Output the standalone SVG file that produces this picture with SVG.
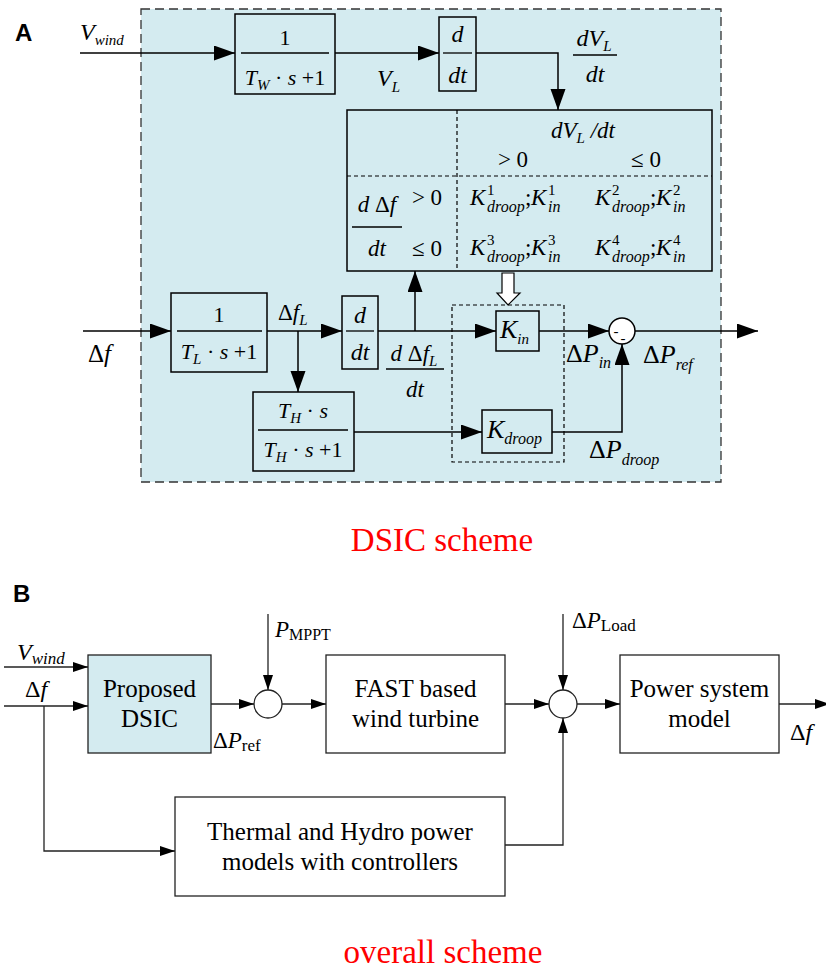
<svg xmlns="http://www.w3.org/2000/svg" width="826" height="971" viewBox="0 0 826 971">
<defs>
<marker id="ah" markerUnits="userSpaceOnUse" markerWidth="22" markerHeight="16" refX="21" refY="7.5" orient="auto"><path d="M0,0 L21,7.5 L0,15 z" fill="#000"/></marker>
<marker id="as" markerUnits="userSpaceOnUse" markerWidth="16" markerHeight="11" refX="15" refY="5" orient="auto"><path d="M0,0 L15,5 L0,10 z" fill="#000"/></marker>
<style>
.ln{stroke:#000;stroke-width:1.5;fill:none}
.lb{stroke:#222;stroke-width:1.3;fill:none}
.bx{fill:none;stroke:#000;stroke-width:1.5}
.bb{fill:#fff;stroke:#222;stroke-width:1.3}
.fl{stroke:#000;stroke-width:1.3}
.m{font-family:"Liberation Serif","DejaVu Serif","Times New Roman",serif;fill:#000}
.i{font-style:italic}
.s{font-size:15px}
.t{font-family:"Liberation Serif","DejaVu Serif","Times New Roman",serif;fill:#000}
.red{font-family:"Liberation Serif","DejaVu Serif","Times New Roman",serif;font-size:33px;fill:#ff0000}
.lab{font-family:"Liberation Sans",Arial,sans-serif;font-size:24px;font-weight:bold;fill:#000}
.dsh{stroke:#000;stroke-width:1.2;stroke-dasharray:4,3;fill:none}
</style>
</defs>

<g id="labelA"><text class="lab" x="15" y="41">A</text></g>

<g id="dsic-frame"><rect x="141" y="9" width="580" height="473" fill="#D4EBF0" stroke="#333" stroke-width="1.3" stroke-dasharray="9,5"/></g>

<g id="vwind-label"><text class="m i" x="80" y="40" font-size="24">V<tspan class="s" dy="5">wind</tspan></text></g>

<g id="TW-block">
<rect class="bx" x="235" y="14" width="100" height="80"/>
<text class="m" x="285" y="45" text-anchor="middle" font-size="22">1</text>
<line class="fl" x1="241" y1="53" x2="329" y2="53"/>
<text class="m" x="285" y="85" text-anchor="middle" font-size="22"><tspan class="i">T</tspan><tspan class="s i" dy="5">W</tspan><tspan dy="-5"> · </tspan><tspan class="i">s</tspan> +1</text>
</g>

<g id="VL-label"><text class="m i" x="377" y="86" font-size="24">V<tspan class="s" dy="6">L</tspan></text></g>

<g id="ddt-1">
<rect class="bx" x="439" y="17" width="37" height="74"/>
<text class="m i" x="457.5" y="42" text-anchor="middle" font-size="24">d</text>
<line class="fl" x1="443" y1="53" x2="472" y2="53"/>
<text class="m i" x="457.5" y="83" text-anchor="middle" font-size="24">dt</text>
</g>

<g id="dVLdt-label">
<text class="m i" x="594" y="46" text-anchor="middle" font-size="24">dV<tspan class="s" dy="5">L</tspan></text>
<line class="fl" x1="573" y1="55" x2="617" y2="55"/>
<text class="m i" x="595" y="82" text-anchor="middle" font-size="24">dt</text>
</g>

<g id="gain-table">
<rect class="bx" x="347" y="110" width="365" height="161"/>
<line class="dsh" x1="457" y1="110" x2="457" y2="271"/>
<line class="dsh" x1="347" y1="176" x2="712" y2="176"/>
<text class="m i" x="583" y="138" text-anchor="middle" font-size="23">dV<tspan class="s" dy="5">L</tspan><tspan dy="-5"> /dt</tspan></text>
<text class="m" x="513" y="167" text-anchor="middle" font-size="23">&gt; 0</text>
<text class="m" x="646" y="167" text-anchor="middle" font-size="23">≤ 0</text>
<text class="m" x="377" y="212" text-anchor="middle" font-size="23"><tspan class="i">d</tspan> Δ<tspan class="i">f</tspan></text>
<line class="fl" x1="352" y1="227" x2="402" y2="227"/>
<text class="m i" x="377" y="256" text-anchor="middle" font-size="23">dt</text>
<text class="m" x="427" y="205" text-anchor="middle" font-size="23">&gt; 0</text>
<text class="m" x="427" y="256" text-anchor="middle" font-size="23">≤ 0</text>
<g>
<text class="m i" x="470" y="205" font-size="23">K</text><text class="m" x="487" y="195" font-size="15">1</text><text class="m i" x="487" y="212" font-size="16">droop</text><text class="m" x="525" y="205" font-size="23">;</text><text class="m i" x="531" y="205" font-size="23">K</text><text class="m" x="548" y="195" font-size="15">1</text><text class="m i" x="548" y="212" font-size="16">in</text>
<text class="m i" x="595" y="205" font-size="23">K</text><text class="m" x="612" y="195" font-size="15">2</text><text class="m i" x="612" y="212" font-size="16">droop</text><text class="m" x="650" y="205" font-size="23">;</text><text class="m i" x="656" y="205" font-size="23">K</text><text class="m" x="673" y="195" font-size="15">2</text><text class="m i" x="673" y="212" font-size="16">in</text>
<text class="m i" x="470" y="255" font-size="23">K</text><text class="m" x="487" y="245" font-size="15">3</text><text class="m i" x="487" y="262" font-size="16">droop</text><text class="m" x="525" y="255" font-size="23">;</text><text class="m i" x="531" y="255" font-size="23">K</text><text class="m" x="548" y="245" font-size="15">3</text><text class="m i" x="548" y="262" font-size="16">in</text>
<text class="m i" x="595" y="255" font-size="23">K</text><text class="m" x="612" y="245" font-size="15">4</text><text class="m i" x="612" y="262" font-size="16">droop</text><text class="m" x="650" y="255" font-size="23">;</text><text class="m i" x="656" y="255" font-size="23">K</text><text class="m" x="673" y="245" font-size="15">4</text><text class="m i" x="673" y="262" font-size="16">in</text>
</g>
</g>

<g id="df-input-label"><text class="m" x="88" y="362" font-size="25">Δ<tspan class="i">f</tspan></text></g>

<g id="TL-block">
<rect class="bx" x="171" y="293" width="96" height="79"/>
<text class="m" x="219" y="322" text-anchor="middle" font-size="22">1</text>
<line class="fl" x1="177" y1="331" x2="262" y2="331"/>
<text class="m" x="219" y="359" text-anchor="middle" font-size="22"><tspan class="i">T</tspan><tspan class="s i" dy="5">L</tspan><tspan dy="-5"> · </tspan><tspan class="i">s</tspan> +1</text>
</g>

<g id="dfL-label"><text class="m" x="278" y="320" font-size="23">Δ<tspan class="i">f</tspan><tspan class="s i" dy="5">L</tspan></text></g>

<g id="ddt-2">
<rect class="bx" x="342" y="296" width="36" height="73"/>
<text class="m i" x="360" y="323" text-anchor="middle" font-size="24">d</text>
<line class="fl" x1="346" y1="331" x2="374" y2="331"/>
<text class="m i" x="360" y="360" text-anchor="middle" font-size="24">dt</text>
</g>

<g id="ddfL-label">
<text class="m" x="414" y="361" text-anchor="middle" font-size="23"><tspan class="i">d</tspan> Δ<tspan class="i">f</tspan><tspan class="s i" dy="5">L</tspan></text>
<line class="fl" x1="386" y1="369" x2="444" y2="369"/>
<text class="m i" x="415" y="397" text-anchor="middle" font-size="23">dt</text>
</g>

<g id="TH-block">
<rect class="bx" x="253" y="392" width="101" height="79"/>
<text class="m" x="303" y="418" text-anchor="middle" font-size="22"><tspan class="i">T</tspan><tspan class="s i" dy="5">H</tspan><tspan dy="-5"> · </tspan><tspan class="i">s</tspan></text>
<line class="fl" x1="258" y1="430" x2="348" y2="430"/>
<text class="m" x="303" y="457" text-anchor="middle" font-size="22"><tspan class="i">T</tspan><tspan class="s i" dy="5">H</tspan><tspan dy="-5"> · </tspan><tspan class="i">s</tspan> +1</text>
</g>

<g id="gain-group"><rect class="dsh" x="452" y="305" width="112" height="157"/></g>

<g id="hollow-arrow"><polygon points="502,273 514,273 514,293 520,293 508,305 497,293 502,293" fill="#fff" stroke="#000" stroke-width="1.2"/></g>

<g id="Kin-block">
<rect class="bx" x="496" y="311" width="43" height="40"/>
<text class="m i" x="500" y="338" font-size="26">K<tspan class="s" dy="6">in</tspan></text>
</g>

<g id="Kdroop-block">
<rect class="bx" x="482" y="410" width="70" height="43"/>
<text class="m i" x="487" y="438" font-size="26">K<tspan font-size="16" dy="6">droop</tspan></text>
</g>

<g id="sum-1">
<circle cx="622" cy="331" r="13" fill="#fff" stroke="#000" stroke-width="1.5"/>
<text class="m" x="616" y="336" text-anchor="middle" font-size="15">-</text>
<text class="m" x="623" y="343" text-anchor="middle" font-size="15">-</text>
</g>

<g id="dPin-label"><text class="m" x="566" y="362" font-size="26">Δ<tspan class="i">P</tspan><tspan class="i" font-size="16" dy="6">in</tspan></text></g>
<g id="dPref-label"><text class="m" x="643" y="363" font-size="26">Δ<tspan class="i">P</tspan><tspan class="i" font-size="16" dy="7">ref</tspan></text></g>
<g id="dPdroop-label"><text class="m" x="589" y="458" font-size="26">Δ<tspan class="i">P</tspan><tspan class="i" font-size="16" dy="7">droop</tspan></text></g>

<g id="connectors-A">
<line class="ln" x1="80" y1="53" x2="235" y2="53" marker-end="url(#ah)"/>
<line class="ln" x1="335" y1="53" x2="439" y2="53" marker-end="url(#ah)"/>
<polyline class="ln" points="476,53 558,53 558,110" marker-end="url(#ah)"/>
<line class="ln" x1="83" y1="331" x2="171" y2="331" marker-end="url(#ah)"/>
<line class="ln" x1="267" y1="331" x2="342" y2="331" marker-end="url(#ah)"/>
<line class="ln" x1="298" y1="331" x2="298" y2="392" marker-end="url(#ah)"/>
<line class="ln" x1="378" y1="331" x2="496" y2="331" marker-end="url(#ah)"/>
<line class="ln" x1="415" y1="331" x2="415" y2="271" marker-end="url(#ah)"/>
<line class="ln" x1="354" y1="432" x2="482" y2="432" marker-end="url(#ah)"/>
<line class="ln" x1="539" y1="331" x2="609" y2="331" marker-end="url(#ah)"/>
<polyline class="ln" points="552,432 622,432 622,344" marker-end="url(#ah)"/>
<line class="ln" x1="635" y1="331" x2="758" y2="331" marker-end="url(#ah)"/>
</g>

<g id="title-A"><text class="red" x="442" y="551" text-anchor="middle">DSIC scheme</text></g>

<g id="labelB"><text class="lab" x="13" y="602">B</text></g>

<g id="vwind-label-B"><text class="t i" x="17" y="660" font-size="24">V<tspan font-size="17" dy="4">wind</tspan></text></g>
<g id="df-label-B"><text class="t" x="25" y="697" font-size="24">Δ<tspan class="i">f</tspan></text></g>

<g id="dsic-block">
<rect x="88" y="655" width="123" height="98" fill="#D4EBF0" stroke="#222" stroke-width="1.3"/>
<text class="t" x="149.5" y="697" text-anchor="middle" font-size="25">Proposed</text>
<text class="t" x="149.5" y="727" text-anchor="middle" font-size="25">DSIC</text>
</g>

<g id="dPref-label-B"><text class="t" x="213" y="748" font-size="23">Δ<tspan class="i">P</tspan><tspan font-size="17" dy="3">ref</tspan></text></g>

<g id="sum-2"><circle class="bb" cx="268" cy="704" r="14"/></g>
<g id="pmppt-label"><text class="t i" x="275" y="637" font-size="23">P<tspan font-size="16" font-style="normal" dy="3">MPPT</tspan></text></g>

<g id="fast-block">
<rect class="bb" x="326" y="655" width="179" height="98"/>
<text class="t" x="415.5" y="697" text-anchor="middle" font-size="25">FAST based</text>
<text class="t" x="415.5" y="727" text-anchor="middle" font-size="25">wind turbine</text>
</g>

<g id="sum-3"><circle class="bb" cx="563" cy="704" r="14"/></g>
<g id="dPload-label"><text class="t" x="572" y="628" font-size="23">Δ<tspan class="i">P</tspan><tspan font-size="17" dy="3">Load</tspan></text></g>

<g id="power-block">
<rect class="bb" x="620" y="655" width="159" height="98"/>
<text class="t" x="699.5" y="697" text-anchor="middle" font-size="25">Power system</text>
<text class="t" x="699.5" y="727" text-anchor="middle" font-size="25">model</text>
</g>

<g id="df-out-label"><text class="t" x="790" y="740" font-size="24">Δ<tspan class="i">f</tspan></text></g>

<g id="thermal-block">
<rect class="bb" x="175" y="797" width="330" height="99"/>
<text class="t" x="340" y="840" text-anchor="middle" font-size="25">Thermal and Hydro power</text>
<text class="t" x="340" y="870" text-anchor="middle" font-size="25">models with controllers</text>
</g>

<g id="connectors-B">
<line class="lb" x1="4" y1="667" x2="88" y2="667" marker-end="url(#as)"/>
<line class="lb" x1="4" y1="706" x2="88" y2="706" marker-end="url(#as)"/>
<polyline class="lb" points="44,706 44,851 175,851" marker-end="url(#as)"/>
<line class="lb" x1="211" y1="704" x2="254" y2="704" marker-end="url(#as)"/>
<line class="lb" x1="268" y1="614" x2="268" y2="690" marker-end="url(#as)"/>
<line class="lb" x1="282" y1="704" x2="326" y2="704" marker-end="url(#as)"/>
<line class="lb" x1="505" y1="704" x2="549" y2="704" marker-end="url(#as)"/>
<line class="lb" x1="563" y1="614" x2="563" y2="690" marker-end="url(#as)"/>
<line class="lb" x1="577" y1="704" x2="620" y2="704" marker-end="url(#as)"/>
<line class="lb" x1="779" y1="704" x2="830" y2="704" marker-end="url(#as)"/>
<polyline class="lb" points="505,845 563,845 563,718" marker-end="url(#as)"/>
</g>

<g id="title-B"><text class="red" x="443" y="963" text-anchor="middle">overall scheme</text></g>
</svg>
